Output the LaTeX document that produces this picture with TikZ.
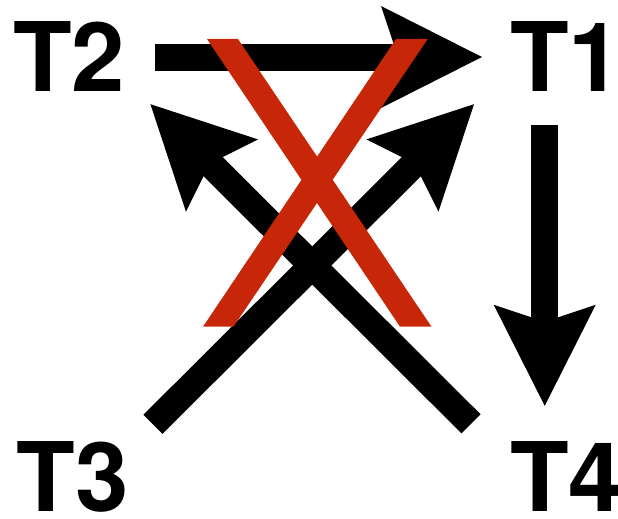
\documentclass[tikz,border=0pt]{standalone}
\usepackage{fontspec}
\setmainfont{TeX Gyre Heros}
\usetikzlibrary{arrows.meta}
\definecolor{xred}{RGB}{200,38,8}
\begin{document}
\begin{tikzpicture}[x=1pt,y=-1pt,
  lab/.style={anchor=base west,inner sep=0pt,font=\fontsize{96}{96}\selectfont\bfseries},
  arr/.style={line width=27pt,-{Stealth[length=101pt,width=102pt,inset=17pt,line width=0pt]}},
  cross/.style={fill=xred}]
\useasboundingbox (0,0) rectangle (618,519);
\node[lab] (T2) at (13,92) {T2};
\node[lab] (T1) at (510,92) {T1};
\node[lab] (T3) at (16.5,511) {T3};
\node[lab] (T4) at (510,511) {T4};
% arrows
\draw[arr,shorten <=30pt,shorten >=28pt] (T2.east) -- (T1.west);
\draw[arr,shorten <=33pt,shorten >=35pt] ([xshift=-21.5pt]T1.south) -- ([xshift=-21.5pt]T4.north);
\draw[arr] ([xshift=24pt,yshift=16.5pt]T3.north east) -- ([xshift=-36pt,yshift=-12pt]T1.south west);
\draw[arr] ([xshift=-39pt,yshift=17pt]T4.north west) -- ([xshift=25pt,yshift=-12pt]T2.south east);
% red cross
\fill[cross] (207,39) -- (238,39) -- (431.5,326.7) -- (400,326.7) -- cycle;
\fill[cross] (396,39) -- (427.7,39) -- (233.5,326.7) -- (203,326.7) -- cycle;
\end{tikzpicture}
\end{document}
